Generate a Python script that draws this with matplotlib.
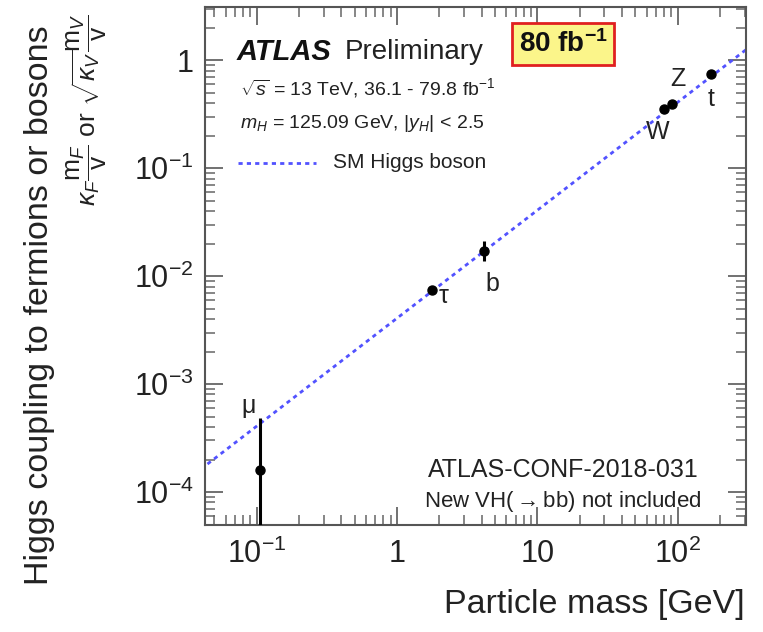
import matplotlib
matplotlib.use("Agg")
import matplotlib.pyplot as plt
from matplotlib.ticker import LogLocator, NullFormatter, FixedLocator, FixedFormatter

plt.rcParams['font.family'] = ['Liberation Sans', 'DejaVu Sans']
plt.rcParams['mathtext.fontset'] = 'custom'
plt.rcParams['mathtext.rm'] = 'Liberation Sans'
plt.rcParams['mathtext.it'] = 'Liberation Sans:italic'
plt.rcParams['mathtext.bf'] = 'Liberation Sans:bold'

# Measured couplings
particles = ['μ', 'τ', 'b', 'W', 'Z', 't']
mass = [0.1057, 1.777, 4.18, 80.4, 91.19, 173.0]
coupling = [1.6e-4, 7.5e-3, 0.0171, 0.35, 0.39, 0.745]
err_low = [1.59e-4, 0.0006, 0.0033, 0.02, 0.02, 0.04]
err_high = [3.2e-4, 0.0006, 0.0040, 0.02, 0.02, 0.04]

# Standard Model expectation, m / v
sm_mass = [0.04, 320.0]
sm_coupling = [1.63e-4, 1.30]

# label offsets in pixels relative to each point
label_dx = [-12, 12, 8, -7, 6, 0]
label_dy = [64, -6, -33, -23, 25, -25]

SM_COLOR = '#5252ff'

fig = plt.figure(figsize=(7.63, 6.32), dpi=100)
ax = fig.add_axes([205/763, 1-525/632, 541/763, 518/632])
ax.set_xscale('log')
ax.set_yscale('log')
ax.set_xlim(0.0428, 307)
ax.set_ylim(4.95e-5, 3.1)

ax.plot(sm_mass, sm_coupling, color=SM_COLOR, lw=2.0, linestyle=(0, (1.5, 1.5)),
        zorder=2)

ax.errorbar(mass, coupling, yerr=[err_low, err_high], fmt='o', color='black',
            ms=6.5, elinewidth=2.2, capsize=0, zorder=3)

for p, m, c, dx, dy in zip(particles, mass, coupling, label_dx, label_dy):
    ax.annotate(p, (m, c), xytext=(dx, dy), textcoords='offset pixels',
                ha='center', va='center', fontsize=18, color='#222222')

# axes styling: inward ticks on all sides
for s in ax.spines.values():
    s.set_color('#555555')
    s.set_linewidth(1.5)
ax.tick_params(which='both', direction='in', top=True, right=True,
               colors='#666666', labelcolor='#222222', labelsize=22)
ax.tick_params(which='major', length=13, width=1.3)
ax.tick_params(which='minor', length=7, width=1.1)
ax.xaxis.set_major_locator(FixedLocator([0.1, 1, 10, 100]))
ax.xaxis.set_major_formatter(FixedFormatter([r'$10^{-1}$', '1', '10', r'$10^{2}$']))
ax.xaxis.set_minor_locator(LogLocator(base=10, subs=range(2, 10)))
ax.xaxis.set_minor_formatter(NullFormatter())
ax.yaxis.set_major_locator(FixedLocator([1e-4, 1e-3, 1e-2, 1e-1, 1]))
ax.yaxis.set_major_formatter(FixedFormatter([r'$10^{-4}$', r'$10^{-3}$', r'$10^{-2}$',
                                              r'$10^{-1}$', '1']))
ax.yaxis.set_minor_locator(LogLocator(base=10, subs=range(2, 10)))
ax.yaxis.set_minor_formatter(NullFormatter())
ax.tick_params(axis='x', pad=10)
ax.tick_params(axis='y', pad=8)

# axis titles
fig.text(745/763, 1-605/632, 'Particle mass [GeV]', ha='right', va='center',
         fontsize=24.5, color='#222222')
fig.text(40/763, 1-305/632, 'Higgs coupling to fermions or bosons', rotation=90,
         ha='center', va='center', fontsize=24.5, color='#222222')
fig.text(87/763, 1-110/632,
         r'$\kappa_F\dfrac{\mathrm{m}_F}{\mathrm{v}}$ or '
         r'$\sqrt{\kappa_V}\dfrac{\mathrm{m}_V}{\mathrm{v}}$',
         rotation=90, ha='center', va='center', fontsize=19, color='#222222')

# header
fig.text(237/763, 1-52/632, 'ATLAS', fontsize=21, fontweight='bold',
         fontstyle='italic', ha='left', va='center', color='#111111')
fig.text(345/763, 1-52/632, 'Preliminary', fontsize=20, ha='left', va='center',
         color='#222222')
fig.text(240/763, 1-88/632, r'$\sqrt{s}$ = 13 TeV, 36.1 - 79.8 fb$^{-1}$',
         fontsize=14, ha='left', va='center', color='#222222')
fig.text(240/763, 1-123/632, r'$m_H$ = 125.09 GeV, |$y_H$| < 2.5',
         fontsize=14, ha='left', va='center', color='#222222')
fig.lines.append(plt.Line2D([238/763, 316/763], [1-163/632, 1-163/632],
                            transform=fig.transFigure, color=SM_COLOR, lw=2.0,
                            linestyle=(0, (1.5, 1.5))))
fig.text(333/763, 1-163/632, 'SM Higgs boson', fontsize=15, ha='left',
         va='center', color='#222222')

# luminosity box
fig.text(563/763, 1-44/632, r'80 fb$^{\mathbf{-1}}$', fontsize=20, fontweight='bold',
         ha='center', va='center', color='#111111',
         bbox=dict(boxstyle='square,pad=0.25', facecolor='#fbf58a',
                   edgecolor='#e02020', linewidth=2))

# reference note
fig.text(563/763, 1-470/632, 'ATLAS-CONF-2018-031', fontsize=18, ha='center',
         va='center', color='#222222')
fig.text(563/763, 1-502/632, r'New VH($\rightarrow$bb) not included', fontsize=16,
         ha='center', va='center', color='#222222')

fig.savefig('out.png', dpi=100)
